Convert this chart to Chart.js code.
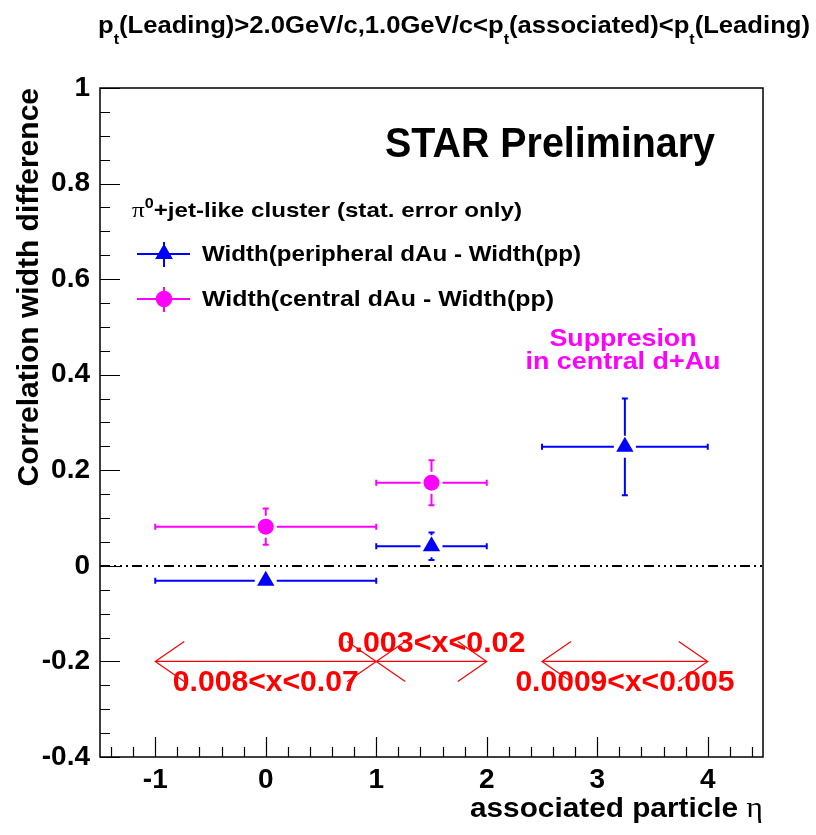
<!DOCTYPE html>
<html>
<head>
<meta charset="utf-8">
<title>Correlation width difference vs eta</title>
<script src="https://cdn.jsdelivr.net/npm/chart.js@4.4.1/dist/chart.umd.min.js"></script>
<style>
  html, body { margin: 0; padding: 0; background: #fff; }
  #wrap { width: 816px; height: 835px; }
</style>
</head>
<body>
<div id="wrap"><canvas id="chart" width="816" height="835"></canvas></div>
<script>
const xTicks = [-1, 0, 1, 2, 3, 4];
const yTicks = [-0.4, -0.2, 0, 0.2, 0.4, 0.6, 0.8, 1];

// Width(peripheral dAu) - Width(pp)
const periX = [0, 1.5, 3.25];
const periXLo = [-1, 1, 2.5];
const periXHi = [1, 2, 4];
const periY = [-0.031, 0.041, 0.249];
const periYErr = [0.004, 0.029, 0.101];

// Width(central dAu) - Width(pp)
const centX = [0, 1.5];
const centXLo = [-1, 1];
const centXHi = [1, 2];
const centY = [0.082, 0.174];
const centYErr = [0.038, 0.047];

// Bjorken-x ranges probed by each eta bin
const xRangeLabels = ['0.008<x<0.07', '0.003<x<0.02', '0.0009<x<0.005'];
const xRangeFrom = [-1, 1, 2.5];
const xRangeTo = [1, 2, 4];
const xRangeLevel = -0.2;

const SANS = '"Liberation Sans", Arial, Helvetica, sans-serif';
const SERIF = '"Liberation Serif", "Times New Roman", serif';
const BLUE = '#0000ff';
const MAGENTA = '#ff00ff';
const RED = '#ff0000';

function points(xs, lo, hi, ys, errs) {
  return xs.map((x, i) => ({ x: x, y: ys[i], xLo: lo[i], xHi: hi[i], yErr: errs[i] }));
}

// draws a sequence of text runs, optionally squeezed/stretched to a given width
function drawRuns(ctx, runs, x, y, width, align, color) {
  let natural = 0;
  runs.forEach(r => { ctx.font = r.font; natural += ctx.measureText(r.text).width; });
  const sx = width ? width / natural : 1;
  const w = natural * sx;
  const left = align === 'center' ? x - w / 2 : align === 'right' ? x - w : x;
  ctx.save();
  ctx.translate(left, y);
  ctx.scale(sx, 1);
  ctx.textAlign = 'left';
  ctx.textBaseline = 'alphabetic';
  ctx.fillStyle = color || '#000';
  let cx = 0;
  runs.forEach(r => {
    ctx.font = r.font;
    ctx.fillText(r.text, cx, r.dy || 0);
    cx += ctx.measureText(r.text).width;
  });
  ctx.restore();
}

function arrowHead(ctx, tx, ty, dir) {
  ctx.moveTo(tx + dir * 29, ty - 20);
  ctx.lineTo(tx, ty);
  ctx.lineTo(tx + dir * 29, ty + 20);
}

const errorBars = {
  id: 'errorBars',
  beforeDatasetsDraw(chart) {
    const { ctx, scales: { x, y }, chartArea } = chart;
    ctx.save();

    // zero reference line
    ctx.strokeStyle = '#000';
    ctx.lineWidth = 2;
    ctx.setLineDash([10, 4, 2, 4, 2, 4, 2, 4]);
    ctx.beginPath();
    const y0 = Math.round(y.getPixelForValue(0));
    ctx.moveTo(chartArea.left, y0);
    ctx.lineTo(chartArea.right, y0);
    ctx.stroke();
    ctx.setLineDash([]);

    const gap = 11, cap = 3;
    chart.data.datasets.forEach(ds => {
      ctx.strokeStyle = ds.borderColor;
      ctx.lineWidth = 2;
      ds.data.forEach(p => {
        const px = x.getPixelForValue(p.x), py = y.getPixelForValue(p.y);
        const xl = x.getPixelForValue(p.xLo), xh = x.getPixelForValue(p.xHi);
        const yt = y.getPixelForValue(p.y + p.yErr), yb = y.getPixelForValue(p.y - p.yErr);
        ctx.beginPath();
        if (px - xl > gap) {
          ctx.moveTo(xl, py); ctx.lineTo(px - gap, py);
          ctx.moveTo(xl, py - cap); ctx.lineTo(xl, py + cap);
        }
        if (xh - px > gap) {
          ctx.moveTo(px + gap, py); ctx.lineTo(xh, py);
          ctx.moveTo(xh, py - cap); ctx.lineTo(xh, py + cap);
        }
        if (py - yt > gap) {
          ctx.moveTo(px, yt); ctx.lineTo(px, py - gap);
          ctx.moveTo(px - cap, yt); ctx.lineTo(px + cap, yt);
        }
        if (yb - py > gap) {
          ctx.moveTo(px, py + gap); ctx.lineTo(px, yb);
          ctx.moveTo(px - cap, yb); ctx.lineTo(px + cap, yb);
        }
        ctx.stroke();
      });
    });
    ctx.restore();
  },
  afterDraw(chart) {
    const { ctx, scales: { x, y }, chartArea: a } = chart;
    ctx.save();

    // frame and inward ticks
    ctx.strokeStyle = '#000';
    ctx.lineWidth = 1.5;
    ctx.strokeRect(a.left, a.top, a.right - a.left, a.bottom - a.top);
    ctx.lineWidth = 1.2;
    ctx.beginPath();
    for (let i = -8; i <= 20; i++) {
      const py = Math.round(y.getPixelForValue(i * 0.05)) + 0.5;
      const len = i % 4 === 0 ? 20 : 10;
      ctx.moveTo(a.left, py); ctx.lineTo(a.left + len, py);
    }
    for (let i = -7; i <= 22; i++) {
      const px = Math.round(x.getPixelForValue(i * 0.2)) + 0.5;
      const len = i % 5 === 0 ? 20 : 10;
      ctx.moveTo(px, a.bottom); ctx.lineTo(px, a.bottom - len);
    }
    ctx.stroke();

    // x ranges with double arrows
    const ya = y.getPixelForValue(xRangeLevel);
    const labelWidths = [186, 188, 219];
    ctx.strokeStyle = RED;
    ctx.lineWidth = 1.2;
    xRangeFrom.forEach((from, i) => {
      const xa = x.getPixelForValue(from), xb = x.getPixelForValue(xRangeTo[i]);
      ctx.beginPath();
      ctx.moveTo(xa, ya); ctx.lineTo(xb, ya);
      arrowHead(ctx, xa, ya, 1);
      arrowHead(ctx, xb, ya, -1);
      ctx.stroke();
      const mid = x.getPixelForValue((from + xRangeTo[i]) / 2);
      const above = i === 1;
      drawRuns(ctx, [{ text: xRangeLabels[i], font: 'bold 29px ' + SANS }],
        mid, above ? ya - 9 : ya + 30, labelWidths[i], 'center', RED);
    });

    // texts
    drawRuns(ctx, [{ text: 'STAR Preliminary', font: 'bold 42px ' + SANS }], 385, 157, 330, 'left');
    drawRuns(ctx, [{ text: 'Suppresion', font: 'bold 24px ' + SANS }], 623, 346, 147, 'center', MAGENTA);
    drawRuns(ctx, [{ text: 'in central d+Au', font: 'bold 24px ' + SANS }], 623, 369, 195, 'center', MAGENTA);

    const big = 'bold 24px ' + SANS, sub = 'bold 15px ' + SANS;
    drawRuns(ctx, [
      { text: 'p', font: big }, { text: 't', font: sub, dy: 11 },
      { text: '(Leading)>2.0GeV/c,1.0GeV/c<p', font: big }, { text: 't', font: sub, dy: 11 },
      { text: '(associated)<p', font: big }, { text: 't', font: sub, dy: 11 },
      { text: '(Leading)', font: big }
    ], 98, 33, 712, 'left');

    drawRuns(ctx, [
      { text: 'associated particle ', font: 'bold 28px ' + SANS },
      { text: '\u03b7', font: '30px ' + SERIF }
    ], 763, 817, 293, 'right');

    // legend
    drawRuns(ctx, [
      { text: '\u03c0', font: '22px ' + SERIF },
      { text: '0', font: 'bold 14px ' + SANS, dy: -9 },
      { text: '+jet-like cluster (stat. error only)', font: 'bold 21px ' + SANS }
    ], 132, 217, 390, 'left');

    const entries = [
      { ds: chart.data.datasets[0], y: 254, text: 'Width(peripheral dAu - Width(pp)', w: 379 },
      { ds: chart.data.datasets[1], y: 299, text: 'Width(central dAu - Width(pp)', w: 352 }
    ];
    entries.forEach(e => {
      ctx.strokeStyle = e.ds.borderColor;
      ctx.lineWidth = 2;
      ctx.beginPath();
      ctx.moveTo(137, e.y); ctx.lineTo(190, e.y);
      ctx.moveTo(164, e.y - 12); ctx.lineTo(164, e.y + 13);
      ctx.stroke();
      ctx.fillStyle = e.ds.backgroundColor;
      Chart.helpers.drawPoint(ctx, { pointStyle: e.ds.pointStyle, radius: e.ds.pointRadius, borderWidth: 0 }, 164, e.y);
      ctx.fill();
      drawRuns(ctx, [{ text: e.text, font: 'bold 22px ' + SANS }], 202, e.y + 7, e.w, 'left');
    });

    ctx.restore();
  }
};

new Chart(document.getElementById('chart'), {
  type: 'scatter',
  data: {
    datasets: [
      {
        label: 'Width(peripheral dAu - Width(pp)',
        data: points(periX, periXLo, periXHi, periY, periYErr),
        pointStyle: 'triangle',
        pointRadius: 10,
        pointHoverRadius: 10,
        borderWidth: 0,
        backgroundColor: BLUE,
        borderColor: BLUE
      },
      {
        label: 'Width(central dAu - Width(pp)',
        data: points(centX, centXLo, centXHi, centY, centYErr),
        pointStyle: 'circle',
        pointRadius: 8,
        pointHoverRadius: 8,
        borderWidth: 0,
        backgroundColor: MAGENTA,
        borderColor: MAGENTA
      }
    ]
  },
  options: {
    responsive: false,
    animation: false,
    layout: { padding: { top: 88, right: 53, left: 0, bottom: 0 } },
    plugins: {
      legend: { display: false },
      tooltip: { enabled: false }
    },
    scales: {
      x: {
        type: 'linear',
        min: -1.5,
        max: 4.5,
        afterBuildTicks: s => { s.ticks = xTicks.map(v => ({ value: v })); },
        afterFit: s => { s.height = 78; },
        grid: { display: false, drawTicks: false },
        border: { display: false },
        ticks: {
          padding: 6,
          color: '#000',
          font: { family: SANS, size: 28, weight: 'bold' },
          callback: v => String(v)
        }
      },
      y: {
        type: 'linear',
        min: -0.4,
        max: 1,
        afterBuildTicks: s => { s.ticks = yTicks.map(v => ({ value: v })); },
        afterFit: s => { s.width = 100; },
        grid: { display: false, drawTicks: false },
        border: { display: false },
        title: {
          display: true,
          text: 'Correlation width difference',
          align: 'end',
          color: '#000',
          font: { family: SANS, size: 30, weight: 'bold' },
          padding: { top: 12, bottom: 0 }
        },
        ticks: {
          padding: 10,
          color: '#000',
          font: { family: SANS, size: 28, weight: 'bold' },
          callback: v => String(parseFloat(v.toFixed(1)))
        }
      }
    }
  },
  plugins: [errorBars]
});
</script>
</body>
</html>
